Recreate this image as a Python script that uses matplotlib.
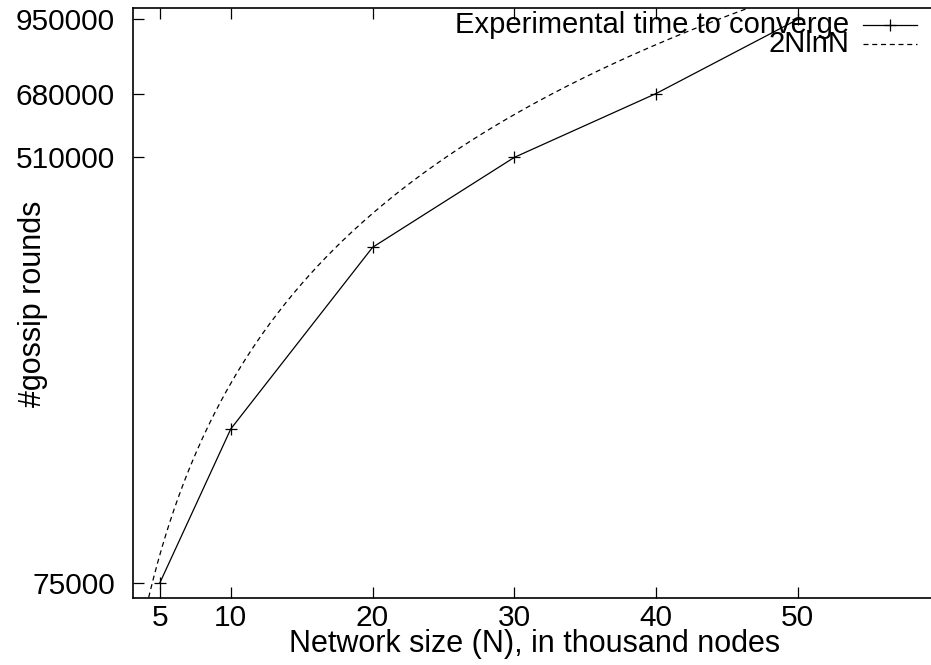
import numpy as np
import matplotlib
matplotlib.use('Agg')
import matplotlib.pyplot as plt

# data (N in thousands of nodes)
network_size = [5, 10, 20, 30, 40, 50]
gossip_rounds = [75000, 150000, 340000, 510000, 680000, 950000]
x_ticks = [5, 10, 20, 30, 40, 50]
y_ticks = [75000, 510000, 680000, 950000]

plt.rcParams['font.family'] = ['Liberation Sans', 'DejaVu Sans']
FS_TICK = 21.5
FS_LABEL = 22
FS_KEY = 21

W, H = 931, 665
fig = plt.figure(figsize=(W / 100, H / 100), dpi=100)
ax = fig.add_axes([133 / W, 67 / H, 1 - 133 / W, (598 - 8) / H])

# reference curve 2NlnN
n_curve = np.linspace(3.0, 60, 400)
ax.plot(n_curve, 2 * n_curve * 1000 * np.log(n_curve * 1000),
        color='black', linewidth=0.9, dashes=(4, 3))

ax.plot(network_size, gossip_rounds, color='black', linewidth=0.9,
        marker='+', markersize=9, markeredgewidth=0.9)

ax.set_yscale('log')
ax.set_xlim(3.1, 59.4)
ax.set_ylim(70000, 1000000)

ax.set_xticks(x_ticks)
ax.set_xticklabels([str(v) for v in x_ticks])
ax.set_yticks(y_ticks)
ax.set_yticklabels([str(v) for v in y_ticks])
ax.yaxis.set_minor_locator(matplotlib.ticker.NullLocator())
ax.tick_params(axis='both', which='major', direction='in', length=8, width=0.9,
               labelsize=FS_TICK, top=True, right=False)
ax.tick_params(axis='x', pad=4)
ax.tick_params(axis='y', pad=13)

for side in ['left', 'top', 'bottom']:
    ax.spines[side].set_linewidth(1.2)
ax.spines['right'].set_visible(False)

ax.set_xlabel('Network size (N), in thousand nodes', fontsize=FS_LABEL, va='baseline')
ax.set_ylabel('#gossip rounds', fontsize=FS_LABEL, va='center')
ax.xaxis.set_label_coords((535 - 133) / (W - 133), -(652 - 598) / (598 - 8))
ax.yaxis.set_label_coords(-(133 - 33) / (W - 133), (598 - 304) / (598 - 8))

# gnuplot-style key, top right
def px(x, y):
    return x / W, 1 - y / H

fig.text(*px(849, 25), 'Experimental time to converge', fontsize=FS_KEY,
         ha='right', va='center')
fig.text(*px(849, 44), '2NlnN', fontsize=FS_KEY, ha='right', va='center')
fig.add_artist(matplotlib.lines.Line2D([863 / W, 917 / W], [1 - 25 / H] * 2,
                                       color='black', linewidth=0.9))
fig.add_artist(matplotlib.lines.Line2D([890 / W], [1 - 25 / H], color='black',
                                       marker='+', markersize=9, markeredgewidth=0.9))
fig.add_artist(matplotlib.lines.Line2D([863 / W, 917 / W], [1 - 44 / H] * 2,
                                       color='black', linewidth=0.9, dashes=(4, 3)))

fig.savefig('out.png', dpi=100)
